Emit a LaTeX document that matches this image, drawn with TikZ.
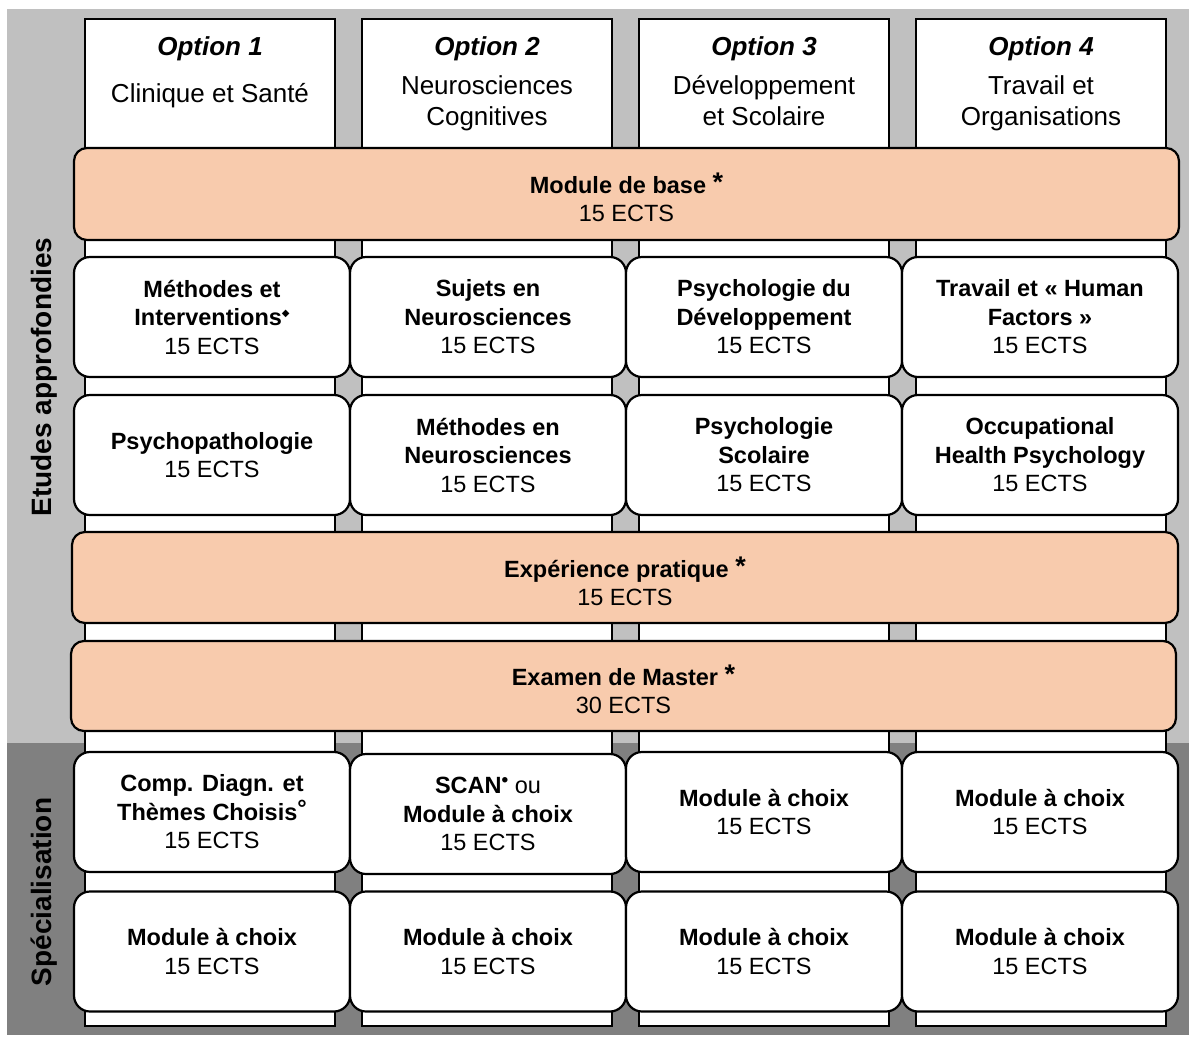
\documentclass[tikz,border=0pt]{standalone}
\usepackage{fontspec}
\setmainfont{Liberation Sans}
\newfontfamily\dejavu{DejaVu Sans}
\definecolor{lightbg}{HTML}{C0C0C0}
\definecolor{darkbg}{HTML}{808080}
\definecolor{peach}{HTML}{F8CBAD}
\newcommand\bxfont{\fontsize{23.5}{28.5}\selectfont}
\newcommand\hdfont{\fontsize{26}{31}\selectfont}
\newcommand\myast{\raisebox{2pt}{\bfseries\fontsize{27}{27}\selectfont *}}
\newcommand\mydiam{\raisebox{9pt}{\dejavu\fontsize{10}{10}\selectfont ◆}}
\newcommand\mybul{\raisebox{7pt}{\bfseries\fontsize{19}{19}\selectfont •}}
\newcommand\mydegr{\raisebox{4pt}{°}}
\begin{document}
\begin{tikzpicture}[x=1pt,y=-1pt,
  col/.style={draw=black, fill=white, line width=2.2pt, minimum width=250pt, minimum height=1007pt, inner sep=0pt},
  modbox/.style={draw=black, fill=white, line width=2.2pt, rounded corners=16pt, minimum width=276pt, minimum height=120pt, inner sep=0pt, align=center, font=\bxfont},
  band/.style={draw=black, fill=peach, line width=2.2pt, rounded corners=13pt, inner sep=0pt},
  bandtxt/.style={align=center, font=\bxfont, inner sep=0pt},
  title/.style={font=\bfseries\itshape\fontsize{26}{26}\selectfont, inner sep=0pt},
  sub/.style={font=\hdfont, align=center, inner sep=0pt},
  side/.style={rotate=90, font=\bfseries\fontsize{28}{28}\selectfont, inner sep=0pt}]
\useasboundingbox (0,0) rectangle (1189,1037);
\fill[white] (0,0) rectangle (1189,1037);
% backgrounds
\fill[lightbg] (7,9) rectangle (1189,743);
\fill[darkbg] (7,743) rectangle (1189,1035);
% columns
\node[col] (col1) at (210,522.5) {};
\node[col] (col2) at (487,522.5) {};
\node[col] (col3) at (764,522.5) {};
\node[col] (col4) at (1041,522.5) {};
% headers
\node[title] (t1) at (210,49) {Option 1};
\node[title] (t2) at (487,49) {Option 2};
\node[title] (t3) at (764,49) {Option 3};
\node[title] (t4) at (1041,49) {Option 4};
\node[sub] (s1) at (210,96) {Clinique et Santé};
\node[sub] (s2) at (487,103) {Neurosciences\\Cognitives};
\node[sub] (s3) at (764,101) {Développement\\et Scolaire};
\node[sub] (s4) at (1041,103) {Travail et\\Organisations};
% bands
\node[band, minimum width=1105pt, minimum height=92pt] (b1) at (626.5,194) {};
\node[bandtxt] (b1t) at (626.5,197.5) {\textbf{Module de base} \myast\\15 ECTS};
\node[band, minimum width=1106pt, minimum height=91pt] (b2) at (625,577.5) {};
\node[bandtxt] (b2t) at (625,581.5) {\textbf{Expérience pratique} \myast\\15 ECTS};
\node[band, minimum width=1105pt, minimum height=90pt] (b3) at (623.5,686) {};
\node[bandtxt] (b3t) at (623.5,689.5) {\textbf{Examen de Master} \myast\\30 ECTS};
% row 1
\node[modbox] (r1c1) at (212,317) {\textbf{Méthodes et}\\\textbf{Interventions}\mydiam\\15 ECTS};
\node[modbox] (r1c2) at (488,317) {\textbf{Sujets en}\\\textbf{Neurosciences}\\15 ECTS};
\node[modbox] (r1c3) at (764,317) {\textbf{Psychologie du}\\\textbf{Développement}\\15 ECTS};
\node[modbox] (r1c4) at (1040,317) {\textbf{Travail et « Human}\\\textbf{Factors »}\\15 ECTS};
% row 2
\node[modbox] (r2c1) at (212,455) {\textbf{Psychopathologie}\\15 ECTS};
\node[modbox] (r2c2) at (488,455) {\textbf{Méthodes en}\\\textbf{Neurosciences}\\15 ECTS};
\node[modbox] (r2c3) at (764,455) {\textbf{Psychologie}\\\textbf{Scolaire}\\15 ECTS};
\node[modbox] (r2c4) at (1040,455) {\textbf{Occupational}\\\textbf{Health Psychology}\\15 ECTS};
% row 3
\node[modbox] (r3c1) at (212,812) {\textbf{Comp. Diagn. et}\\\textbf{Thèmes Choisis\mydegr}\\15 ECTS};
\node[modbox] (r3c2) at (488,814) {\textbf{SCAN}\mybul{} ou\\\textbf{Module à choix}\\15 ECTS};
\node[modbox] (r3c3) at (764,812) {\textbf{Module à choix}\\15 ECTS};
\node[modbox] (r3c4) at (1040,812) {\textbf{Module à choix}\\15 ECTS};
% row 4
\node[modbox] (r4c1) at (212,951.5) {\textbf{Module à choix}\\15 ECTS};
\node[modbox] (r4c2) at (488,951.5) {\textbf{Module à choix}\\15 ECTS};
\node[modbox] (r4c3) at (764,951.5) {\textbf{Module à choix}\\15 ECTS};
\node[modbox] (r4c4) at (1040,951.5) {\textbf{Module à choix}\\15 ECTS};
% side labels
\node[side] (lab1) at (44,377) {Etudes approfondies};
\node[side] (lab2) at (44,892) {Spécialisation};
\end{tikzpicture}
\end{document}
